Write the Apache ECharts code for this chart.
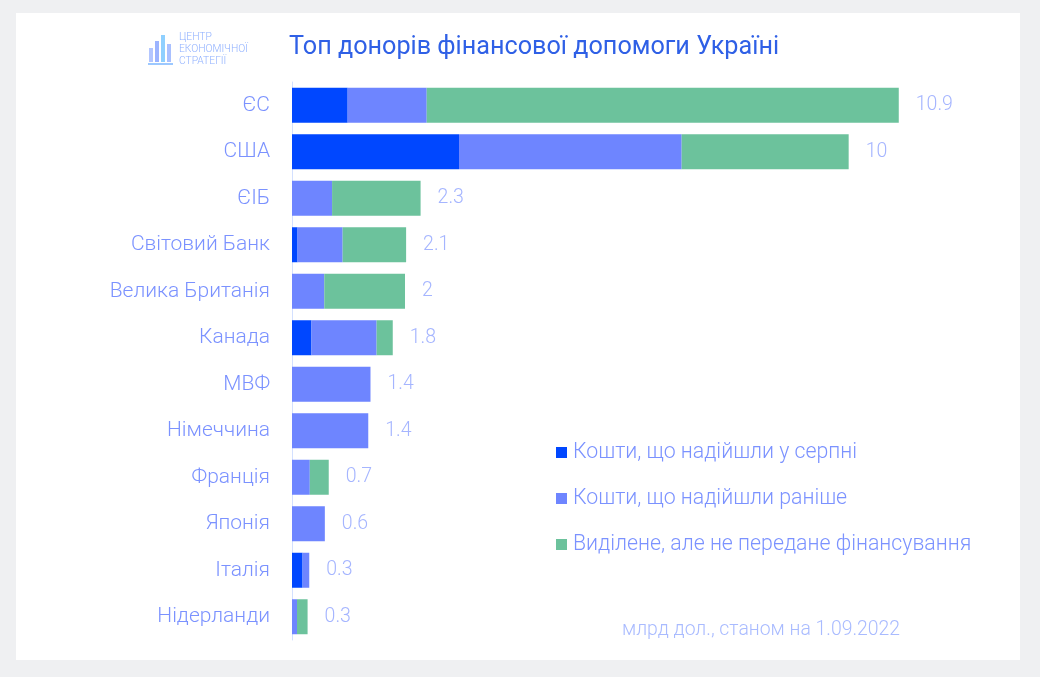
<!DOCTYPE html>
<html>
<head>
<meta charset="utf-8">
<script src="https://cdn.jsdelivr.net/npm/echarts@6/dist/echarts.min.js"></script>
<style>
html,body{margin:0;padding:0;background:#eff0f2;}
#panel{position:absolute;left:16px;top:13px;width:1004px;height:647px;background:#fff;}
#chart{position:absolute;left:0;top:0;width:1040px;height:677px;}
</style>
</head>
<body>
<div id="panel"></div>
<div id="chart"></div>
<script>
const categories = ['ЄС','США','ЄІБ','Світовий Банк','Велика Британія','Канада','МВФ','Німеччина','Франція','Японія','Італія','Нідерланди'];
const august   = [1.0, 3.0, 0,    0.1,  0,    0.35, 0,    0,    0,    0,    0.19, 0];
const earlier  = [1.42,4.0, 0.72, 0.81, 0.58, 1.17, 1.41, 1.37, 0.32, 0.59, 0.12, 0.09];
const pending  = [8.48,3.0, 1.59, 1.14, 1.45, 0.29, 0,    0,    0.34, 0,    0,    0.19];
const totalLabels = ['10.9','10','2.3','2.1','2','1.8','1.4','1.4','0.7','0.6','0.3','0.3'];
const seriesNames = ['Кошти, що надійшли у серпні','Кошти, що надійшли раніше','Виділене, але не передане фінансування'];

const totals = categories.map((c,i)=>august[i]+earlier[i]+pending[i]);

const chart = echarts.init(document.getElementById('chart'), null, {renderer:'canvas'});
const FONT = 'Roboto';
const barCommon = {type:'bar', stack:'total', barWidth:35, emphasis:{disabled:true}};
chart.setOption({
  animation:false,
  textStyle:{fontFamily:FONT},
  title:{
    text:'Топ донорів фінансової допомоги Україні',
    left:289, top:35, padding:0,
    textStyle:{fontFamily:FONT, fontSize:25.2, fontWeight:400, color:'#2f60e6'}
  },
  legend:{
    orient:'vertical', left:556, top:442, padding:0,
    itemWidth:11, itemHeight:11, itemGap:25, icon:'rect',
    textStyle:{fontFamily:FONT, fontSize:21.3, fontWeight:300, color:'#7b92ff', padding:[0,0,0,1]},
    data:seriesNames
  },
  grid:{left:292, right:80, top:82, bottom:37},
  xAxis:{type:'value', min:0, max:12, show:false},
  yAxis:{
    type:'category', data:categories, inverse:true,
    axisTick:{show:false},
    axisLine:{show:true, lineStyle:{color:'#d3e0ff', width:1}},
    axisLabel:{fontFamily:FONT, fontSize:21, fontWeight:300, color:'#7b92ff', margin:22, padding:[4,0,0,0]}
  },
  series:[
    Object.assign({}, barCommon, {name:seriesNames[0], data:august, itemStyle:{color:'#0047ff'}}),
    Object.assign({}, barCommon, {name:seriesNames[1], data:earlier, itemStyle:{color:'#6e85ff'}}),
    Object.assign({}, barCommon, {name:seriesNames[2], data:pending, itemStyle:{color:'#6cc29c'}}),
    {
      type:'scatter', symbolSize:0, silent:true,
      data: totals.map((t,i)=>[t, categories[i]]),
      label:{show:true, position:'right', distance:17, fontFamily:FONT, fontSize:19.5, fontWeight:300, color:'#8ea3ff',
        padding:[4,0,0,0], formatter:(p)=>totalLabels[p.dataIndex]}
    }
  ],
  graphic:[
    {type:'rect', shape:{x:149,y:48,width:4,height:14}, style:{fill:'#b3c6ff'}},
    {type:'rect', shape:{x:155,y:41,width:4,height:21}, style:{fill:'#9cb4ff'}},
    {type:'rect', shape:{x:161,y:35,width:4,height:27}, style:{fill:'#8fd0ff'}},
    {type:'rect', shape:{x:167,y:44,width:4,height:18}, style:{fill:'#a9c0ff'}},
    {type:'rect', shape:{x:148,y:63,width:25,height:2}, style:{fill:'#9cc8ff'}},
    {type:'text', left:179, top:31, style:{text:'ЦЕНТР\nЕКОНОМІЧНОЇ\nСТРАТЕГІЇ', font:'300 10.3px Roboto', fill:'#8fb0ff', lineHeight:12}},
    {type:'text', left:622, top:621, style:{text:'млрд дол., станом на 1.09.2022', font:'300 19.4px Roboto', fill:'#a9bbff'}}
  ]
});
</script>
</body>
</html>
